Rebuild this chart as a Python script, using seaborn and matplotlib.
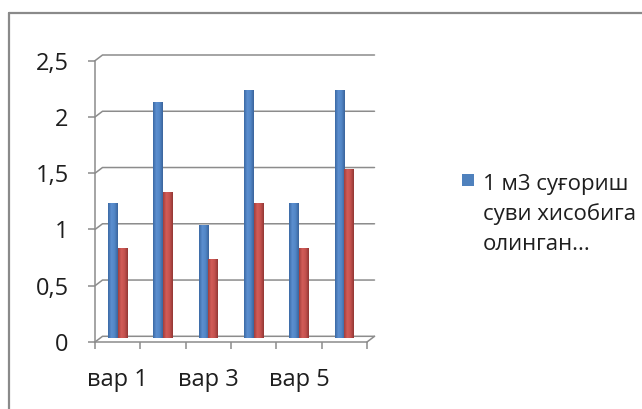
import numpy as np
import matplotlib
matplotlib.use("Agg")
import matplotlib.pyplot as plt
import matplotlib.transforms as mtransforms
from matplotlib.colors import LinearSegmentedColormap, to_hex
from matplotlib.lines import Line2D
from matplotlib.patches import Rectangle
import pandas as pd
import seaborn as sns

# ---- data ----
categories = ["вар 1", "вар 2", "вар 3", "вар 4", "вар 5", "вар 6"]
series_blue = [1.2, 2.1, 1.0, 2.2, 1.2, 2.2]
series_red = [0.8, 1.3, 0.7, 1.2, 0.8, 1.5]
series_names = ["1 м3 суғориш суви хисобига олинган...", "қатор 2"]
legend_lines = ["1 м3 суғориш", "суви хисобига", "олинган..."]
y_ticks = [0, 0.5, 1, 1.5, 2, 2.5]
y_tick_labels = ["0", "0,5", "1", "1,5", "2", "2,5"]
x_tick_labels = ["вар 1", "", "вар 3", "", "вар 5", ""]

sns.set_theme(style="ticks")
plt.rcParams["font.family"] = ["Open Sans", "DejaVu Sans"]

df = pd.DataFrame({
    "variant": categories * 2,
    "value": series_blue + series_red,
    "series": [series_names[0]] * len(categories) + [series_names[1]] * len(categories),
})

W, H, DPI = 642, 409, 100
fig = plt.figure(figsize=(W / DPI, H / DPI), dpi=DPI)
fig.patch.set_facecolor("white")

# front edges of the plot box, in pixels
left, right, bottom, top = 95, 367, 342, 60.7
ax = fig.add_axes([left / W, 1 - bottom / H, (right - left) / W, (bottom - top) / H])

blue, red = "#4F81BD", "#C0504D"
palette = {series_names[0]: blue, series_names[1]: red}
sns.barplot(data=df, x="variant", y="value", hue="series", order=categories,
            hue_order=series_names, palette=palette, width=0.42, saturation=1,
            errorbar=None, legend=False, ax=ax, zorder=2)

# columns stand slightly behind the front edge of the floor
lift = mtransforms.ScaledTranslation(0, 4 / DPI, fig.dpi_scale_trans)

# cylinder-like shading across each column
shades = {
    to_hex(blue): LinearSegmentedColormap.from_list(
        "b", ["#3B69A4", "#5C8FD0", "#5286C6", "#3A649C"]),
    to_hex(red): LinearSegmentedColormap.from_list(
        "r", ["#A23E3B", "#D25C58", "#C4524E", "#923734"]),
}
grad = np.linspace(0, 1, 64).reshape(1, -1)
for p in list(ax.patches):
    p.set_transform(ax.transData + lift)
    p.set_linewidth(0)
    fc = to_hex(p.get_facecolor())
    x0, w, h = p.get_x(), p.get_width(), p.get_height()
    im = ax.imshow(grad, cmap=shades[fc], extent=(x0, x0 + w, 0, h), aspect="auto",
                   interpolation="bilinear", zorder=2.1)
    im.set_transform(ax.transData + lift)
    im.set_clip_path(p)

ax.set_xlim(-0.5, 5.5)
ax.set_ylim(0, 2.5)

# back wall gridlines with the small perspective hook
grid_c = "#8C8C8C"
dx = 7.5 / ((right - left) / 6)
dy = 5.7 / ((bottom - top) / 2.5)
for v in y_ticks:
    ax.plot([-0.5, -0.5 + dx, 5.5 + dx], [v, v + dy, v + dy],
            color=grid_c, lw=1.1, clip_on=False, zorder=0.5)
ax.plot([5.5 + dx, 5.5], [dy, 0], color=grid_c, lw=1.1, clip_on=False, zorder=0.5)

for s in ["top", "right"]:
    ax.spines[s].set_visible(False)
for s in ["left", "bottom"]:
    ax.spines[s].set_color(grid_c)
    ax.spines[s].set_linewidth(1.1)

text_c = "#1E1E1E"
ax.set_yticks(y_ticks, y_tick_labels)
ax.set_xticks(range(len(categories)), x_tick_labels)
ax.set_xticks([i - 0.5 for i in range(len(categories) + 1)], minor=True)
ax.tick_params(axis="y", which="major", left=True, length=5, width=1.1,
               color=grid_c, pad=14, labelsize=17, labelcolor=text_c)
ax.tick_params(axis="x", which="major", bottom=True, length=0, pad=19,
               labelsize=17, labelcolor=text_c)
ax.tick_params(axis="x", which="minor", bottom=True, length=5, width=1.1,
               color=grid_c)
ax.set_xlabel("")
ax.set_ylabel("")

# legend: single entry for the blue series
fig.add_artist(Rectangle((462 / W, 1 - 186 / H), 12 / W, 12 / H,
                         transform=fig.transFigure, facecolor=blue, edgecolor="none"))
for i, line in enumerate(legend_lines):
    fig.text(483 / W, 1 - (190 + 30 * i) / H, line, fontsize=16, color=text_c,
             ha="left", va="baseline")

# chart-area border (runs off the right and bottom edges)
border_c = "#8A8A8A"
fig.add_artist(Line2D([8.5 / W, 1], [1 - 13 / H, 1 - 13 / H], transform=fig.transFigure,
                      color=border_c, lw=1.6))
fig.add_artist(Line2D([8.5 / W, 8.5 / W], [1 - 13 / H, 0], transform=fig.transFigure,
                      color=border_c, lw=1.6))

fig.savefig("out.png", dpi=DPI, facecolor="white")
